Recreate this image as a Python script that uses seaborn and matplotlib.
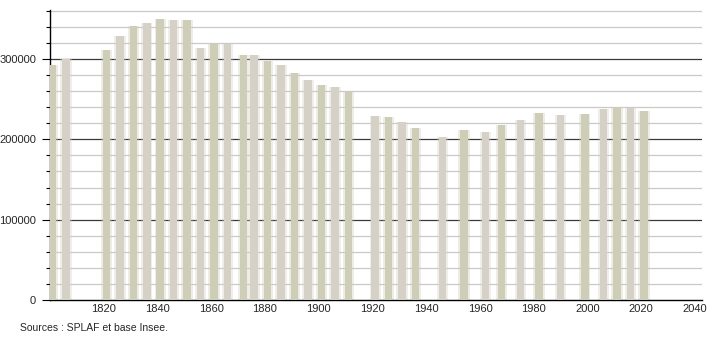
import numpy as np
import pandas as pd
import matplotlib
matplotlib.use("Agg")
import matplotlib.pyplot as plt
import seaborn as sns
from matplotlib.ticker import MultipleLocator

years = [1801, 1806, 1821, 1826, 1831, 1836, 1841, 1846, 1851, 1856, 1861, 1866,
         1872, 1876, 1881, 1886, 1891, 1896, 1901, 1906, 1911, 1921, 1926, 1931,
         1936, 1946, 1954, 1962, 1968, 1975, 1982, 1990, 1999, 2006, 2011, 2016, 2021]
population = [292500, 300500, 311000, 329000, 340500, 345000, 350000, 348500,
              348500, 313500, 318500, 318500, 305000, 305000, 298000, 292500,
              282500, 273500, 267500, 265500, 259500, 229000, 228000, 221000,
              213500, 203500, 211000, 209000, 218000, 224000, 232500, 230500,
              231000, 237500, 240500, 239000, 235500]
xtick_labels = [1820, 1840, 1860, 1880, 1900, 1920, 1940, 1960, 1980, 2000, 2020, 2040]
ytick_labels = [0, 100000, 200000, 300000]
source_text = "Sources : SPLAF et base Insee."

sns.set_style("white")
plt.rcParams['font.family'] = ['Liberation Sans Narrow', 'Liberation Sans', 'DejaVu Sans']

df = pd.DataFrame({"year": years, "pop": population,
                   "tone": [i % 2 for i in range(len(years))]})

fig = plt.figure(figsize=(7.1, 3.4), dpi=100)
ax = fig.add_axes([50/710, 40/340, 652/710, 290/340])

palette = {0: "#d2d0b4", 1: "#d9d2c4"}
# soft halo
sns.barplot(data=df, x="year", y="pop", hue="tone", palette=palette, native_scale=True,
            width=1.05, dodge=False, legend=False, ax=ax, alpha=0.35, linewidth=0,
            errorbar=None, zorder=2)
sns.barplot(data=df, x="year", y="pop", hue="tone", palette=palette, native_scale=True,
            width=0.7, dodge=False, legend=False, ax=ax, linewidth=0,
            errorbar=None, zorder=3)

ax.set_xlim(1800, 2042.6)
ax.set_ylim(0, 361000)
ax.set_xticks(xtick_labels)
ax.set_xticklabels([str(v) for v in xtick_labels])
ax.set_yticks(ytick_labels)
ax.set_yticklabels([str(v) for v in ytick_labels])
ax.yaxis.set_minor_locator(MultipleLocator(20000))

for v in np.arange(20000, 361000, 20000):
    if v % 100000 == 0:
        ax.axhline(v, color="#3a3a3a", lw=0.9, zorder=1)
    else:
        ax.axhline(v, color="#c9c9c9", lw=0.9, zorder=1)

for s in ["top", "right"]:
    ax.spines[s].set_visible(False)
ax.spines["left"].set_color("#000000")
ax.spines["bottom"].set_color("#000000")
ax.spines["left"].set_linewidth(1.0)
ax.spines["bottom"].set_linewidth(1.0)

ax.tick_params(axis="y", which="major", length=6, width=0.8, color="#000000",
               labelsize=8, pad=4, left=True)
ax.tick_params(axis="y", which="minor", length=3, width=0.8, color="#000000", left=True)
ax.tick_params(axis="x", which="major", length=0, labelsize=8, pad=3)
ax.set_xlabel("")
ax.set_ylabel("")

fig.text(20/710, 1 - 328/340, source_text, fontsize=7.5, ha="left", va="center")

fig.savefig("out.png", dpi=100)
